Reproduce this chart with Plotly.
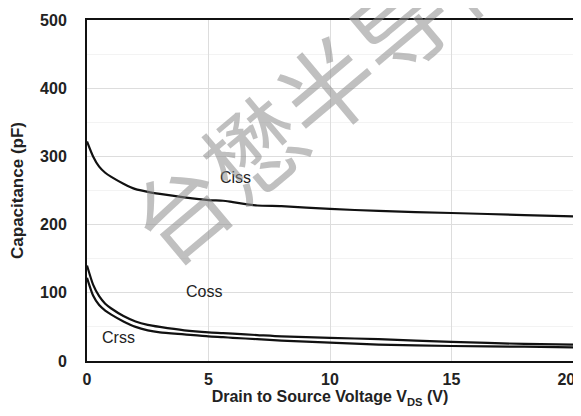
import plotly.graph_objects as go

vds = [0, 0.25, 0.5, 0.75, 1, 1.5, 2, 2.5, 3, 4, 5, 5.6, 6, 7, 8, 10, 12, 15, 18, 20]
ciss = [322, 300, 285, 276, 270, 260, 252, 248, 245, 240, 236, 235, 233, 228, 227, 223, 220, 217, 214, 212]
coss = [140, 112, 95, 84, 77, 66, 58, 53, 50, 45, 42, 41, 40, 38, 36, 34, 32, 28, 25, 24]
crss = [122, 96, 82, 74, 68, 58, 50, 45, 42, 39, 36, 35, 34, 32, 30, 27, 24, 22, 21, 20]
x_ticks = [0, 5, 10, 15, 20]
x_tick_labels = ["0", "5", "10", "15", "20&nbsp;&nbsp;&nbsp;"]
y_ticks = [0, 100, 200, 300, 400, 500]

fig = go.Figure()
for name, ys in [("Ciss", ciss), ("Coss", coss), ("Crss", crss)]:
    fig.add_trace(go.Scatter(x=vds, y=ys, mode="lines", name=name,
                             line=dict(color="#111111", width=2.2, shape="spline", smoothing=0.6)))

font = "Arial, Liberation Sans, sans-serif"
fig.update_layout(
    width=573, height=408,
    margin=dict(l=79, r=8, t=12, b=55, autoexpand=False),
    paper_bgcolor="white", plot_bgcolor="white",
    showlegend=False,
    font=dict(family=font, color="#222222"),
    xaxis=dict(range=[0, 20], tickvals=x_ticks, ticktext=x_tick_labels, showgrid=True, gridcolor="#dddddd",
               zeroline=False, showline=True, linecolor="#111111", linewidth=2, mirror=True,
               ticks="", ticklabelstandoff=3, automargin=False, ticklabeloverflow="allow",
               tickfont=dict(size=16, family=font, color="#222222", weight="bold"),
               title=dict(text="Drain to Source Voltage V<sub>DS</sub> (V)", standoff=2,
                          font=dict(size=16, family=font, color="#222222", weight="bold"))),
    yaxis=dict(range=[0, 500], tickvals=y_ticks, showgrid=True, gridcolor="#dddddd",
               minor=dict(dtick=50, showgrid=True, gridcolor="#f3f3f3"),
               zeroline=False, showline=True, linecolor="#111111", linewidth=2, mirror=True,
               ticks="", ticklabelstandoff=15, automargin=False, ticklabeloverflow="allow",
               tickfont=dict(size=16, family=font, color="#222222", weight="bold"),
               title=dict(text="Capacitance (pF)", standoff=14,
                          font=dict(size=17, family=font, color="#222222", weight="bold"))),
)

for txt, x, y in [("Ciss", 6.1, 269), ("Coss", 4.8, 102), ("Crss", 1.3, 35)]:
    fig.add_annotation(x=x, y=y, text=txt, showarrow=False,
                       font=dict(size=16, family=font, color="#222222"))

fig.add_annotation(xref="paper", yref="paper", x=0.49, y=0.81, xanchor="center", yanchor="middle",
                   text="台懋半导体", showarrow=False, textangle=-40,
                   font=dict(size=96, family="Noto Sans CJK SC", color="rgba(140,140,140,0.55)"))

fig.write_html("out.html")
